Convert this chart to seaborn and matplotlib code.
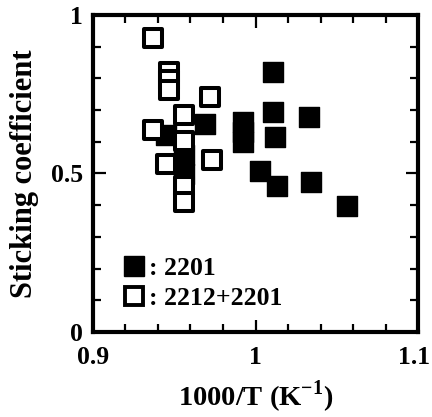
import matplotlib
matplotlib.use("Agg")
import matplotlib.pyplot as plt
import matplotlib.transforms as mtransforms
from matplotlib.lines import Line2D
from matplotlib.ticker import MultipleLocator
import seaborn as sns
import pandas as pd

# data
filled_x = [1.011, 1.011, 1.012, 1.033, 0.992, 0.992, 0.992, 0.969, 0.945, 0.956, 0.956, 1.003, 1.013, 1.034, 1.056]
filled_y = [0.820, 0.694, 0.615, 0.678, 0.662, 0.631, 0.599, 0.657, 0.620, 0.557, 0.499, 0.509, 0.462, 0.472, 0.396]
open_x = [0.937, 0.947, 0.947, 0.947, 0.972, 0.956, 0.937, 0.956, 0.945, 0.973, 0.956, 0.956]
open_y = [0.929, 0.820, 0.794, 0.763, 0.741, 0.684, 0.636, 0.604, 0.531, 0.541, 0.462, 0.409]
labels = [": 2201", ": 2212+2201"]
x_ticks = [0.9, 1.0, 1.1]
x_ticklabels = ["0.9", "1", "1.1"]
y_ticks = [0, 0.5, 1.0]
y_ticklabels = ["0", "0.5", "1"]

sns.set_style("ticks")
plt.rcParams["font.family"] = ["Liberation Serif", "DejaVu Serif"]
plt.rcParams["font.weight"] = "bold"
plt.rcParams["text.color"] = "black"
plt.rcParams["axes.labelcolor"] = "black"
plt.rcParams["xtick.color"] = "black"
plt.rcParams["ytick.color"] = "black"
plt.rcParams["mathtext.fontset"] = "custom"
plt.rcParams["mathtext.rm"] = "Liberation Serif:bold"
plt.rcParams["mathtext.bf"] = "Liberation Serif:bold"

df_f = pd.DataFrame({"x": filled_x, "y": filled_y})
df_o = pd.DataFrame({"x": open_x, "y": open_y})

fig = plt.figure(figsize=(4.32, 4.17), dpi=100)
ax = fig.add_axes([0.215, 0.204, 0.753, 0.760])

sns.scatterplot(data=df_f, x="x", y="y", ax=ax, marker="s", s=200,
                color="black", edgecolor="black", linewidth=1, zorder=3)
sns.scatterplot(data=df_o, x="x", y="y", ax=ax, marker="s", s=155,
                facecolor="white", edgecolor="black", linewidth=2.9, zorder=4)

ax.set_xlim(0.9, 1.1)
ax.set_ylim(0, 1)
ax.set_xticks(x_ticks)
ax.set_xticklabels(x_ticklabels)
ax.set_yticks(y_ticks)
ax.set_yticklabels(y_ticklabels)
ax.xaxis.set_minor_locator(MultipleLocator(0.02))
ax.yaxis.set_minor_locator(MultipleLocator(0.1))
ax.tick_params(which="both", direction="in", top=True, right=True, width=1.6, color="black")
ax.tick_params(which="major", length=9, labelsize=18.5, labelcolor="black")
ax.tick_params(axis="x", which="major", pad=10)
ax.tick_params(axis="y", which="major", pad=7)
ax.tick_params(which="minor", length=6)
for lab in ax.get_xticklabels() + ax.get_yticklabels():
    lab.set_fontweight("bold")
last = ax.get_xticklabels()[-1]
last.set_transform(last.get_transform() + mtransforms.ScaledTranslation(-3 / 72, 0, fig.dpi_scale_trans))
for sp in ax.spines.values():
    sp.set_linewidth(3)
    sp.set_color("black")

ax.set_xlabel("1000/T (K$^{\\mathbf{-1}}$)", fontsize=20.5, fontweight="bold", labelpad=7, color="black")
ax.set_ylabel("Sticking coefficient", fontsize=22, fontweight="bold", labelpad=9, color="black")

handles = [
    Line2D([], [], marker="s", linestyle="none", markersize=14, markerfacecolor="black",
           markeredgecolor="black", markeredgewidth=1),
    Line2D([], [], marker="s", linestyle="none", markersize=12.5, markerfacecolor="white",
           markeredgecolor="black", markeredgewidth=2.8),
]
leg = ax.legend(handles, labels, loc="lower left", bbox_to_anchor=(0.015, -0.005),
                frameon=False, handletextpad=0.1, handlelength=1.0, labelspacing=0.3,
                prop={"family": "Liberation Serif", "weight": "bold", "size": 18.5})
for t in leg.get_texts():
    t.set_color("black")

fig.savefig("out.png", dpi=100)
